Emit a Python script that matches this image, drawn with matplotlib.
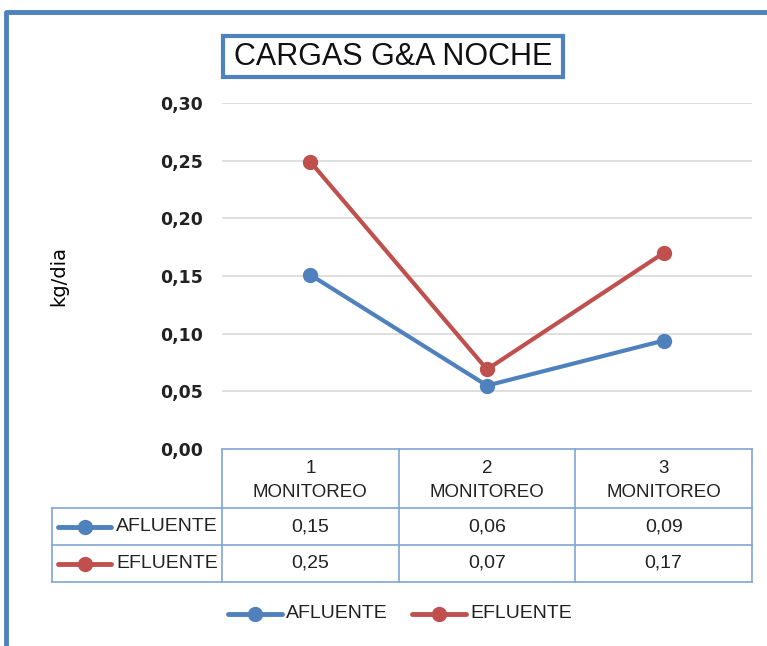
import numpy as np
import matplotlib.pyplot as plt
from matplotlib.patches import Rectangle

categories = ["1\nMONITOREO", "2\nMONITOREO", "3\nMONITOREO"]
series_names = ["AFLUENTE", "EFLUENTE"]
afluente = [0.151, 0.055, 0.094]
efluente = [0.249, 0.069, 0.170]
afluente_tbl = ["0,15", "0,06", "0,09"]
efluente_tbl = ["0,25", "0,07", "0,17"]
yticks = [0.00, 0.05, 0.10, 0.15, 0.20, 0.25, 0.30]

BLUE = "#4F81BD"
RED = "#C0504D"
GRID = "#D9D9D9"
TBL = "#7FA6D8"
TXT = "#222222"

plt.rcParams["font.family"] = ["Liberation Sans", "DejaVu Sans"]

W, H = 767, 646
fig = plt.figure(figsize=(W / 100, H / 100), dpi=100)

# pixel geometry of the plot area
px0, px1, py0, py1 = 222, 752, 449, 103
ax = fig.add_axes([px0 / W, 1 - py0 / H, (px1 - px0) / W, (py0 - py1) / H])
x = np.arange(len(categories))
ax.set_xlim(-0.5, len(categories) - 0.5)
ax.set_ylim(0, 0.30)
for v in yticks[1:]:
    ax.axhline(v, color=GRID, lw=1.2, zorder=0)
ax.plot(x, afluente, color=BLUE, lw=3, marker="o", ms=10, zorder=3)
ax.plot(x, efluente, color=RED, lw=3, marker="o", ms=10, zorder=3)
ax.set_yticks(yticks)
ax.set_yticklabels([f"{v:.2f}".replace(".", ",") for v in yticks],
                   fontsize=12.5, fontweight="bold", color=TXT, family="DejaVu Sans")
ax.tick_params(axis="y", length=0, pad=14)
ax.set_xticks([])
for s in ax.spines.values():
    s.set_visible(False)
ax.set_ylabel("kg/dia", fontsize=14, family="DejaVu Sans")
ax.yaxis.set_label_coords(-(px0 - 68) / (px1 - px0), 0.5)

# overlay in pixel coords for frame, title box, table and legend
ov = fig.add_axes([0, 0, 1, 1], zorder=5)
ov.set_xlim(0, W)
ov.set_ylim(H, 0)
ov.axis("off")
ov.patch.set_alpha(0)

# outer frame (top and left only visible)
ov.plot([6, 6, W + 5], [H + 5, 12, 12], color=BLUE, lw=3.5, solid_capstyle="butt")

# title box
ov.add_patch(Rectangle((223, 36), 340, 41, fill=False, ec=BLUE, lw=3))
ov.text(393, 57, "CARGAS G&A NOCHE", ha="center", va="center", fontsize=22, color="#111111")

# table
colw = (px1 - px0) / len(categories)
rows_y = [449, 508, 545, 582]
lx0 = 52
ov.plot([px0, px1], [rows_y[0], rows_y[0]], color=TBL, lw=1.2)
for yy in rows_y[1:]:
    ov.plot([lx0, px1], [yy, yy], color=TBL, lw=1.2)
for i in range(len(categories) + 1):
    xx = px0 + i * colw
    ov.plot([xx, xx], [rows_y[0], rows_y[-1]], color=TBL, lw=1.2)
ov.plot([lx0, lx0], [rows_y[1], rows_y[-1]], color=TBL, lw=1.2)

for i, cat in enumerate(categories):
    cx = px0 + (i + 0.5) * colw
    ov.text(cx, (rows_y[0] + rows_y[1]) / 2 + 2, cat, ha="center", va="center",
            fontsize=13.5, color=TXT, linespacing=1.55)
    ov.text(cx, (rows_y[1] + rows_y[2]) / 2, afluente_tbl[i], ha="center", va="center",
            fontsize=14, color=TXT)
    ov.text(cx, (rows_y[2] + rows_y[3]) / 2, efluente_tbl[i], ha="center", va="center",
            fontsize=14, color=TXT)

for name, col, r in zip(series_names, [BLUE, RED], [0, 1]):
    cy = (rows_y[1 + r] + rows_y[2 + r]) / 2
    ov.plot([58, 111], [cy, cy], color=col, lw=3.5, solid_capstyle="round")
    ov.plot([85], [cy], marker="o", color=col, ms=10)
    ov.text(116, cy, name, ha="left", va="center", fontsize=14, color=TXT)

# legend
for name, col, lx in zip(series_names, [BLUE, RED], [228, 412]):
    ov.plot([lx, lx + 54], [614, 614], color=col, lw=3.5, solid_capstyle="round")
    ov.plot([lx + 27], [614], marker="o", color=col, ms=10)
    ov.text(lx + 58, 614, name, ha="left", va="center", fontsize=14, color=TXT)

fig.savefig("out.png", dpi=100, facecolor="white")
